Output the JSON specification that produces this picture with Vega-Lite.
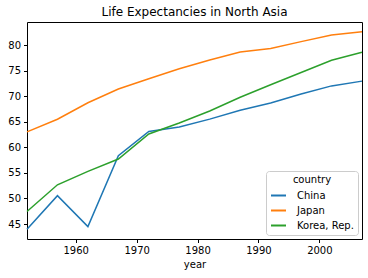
{
  "$schema": "https://vega.github.io/schema/vega-lite/v6.json",
  "autosize": "none",
  "width": 335,
  "height": 217,
  "padding": {"left": 27, "top": 22, "right": 6, "bottom": 39},
  "background": "white",
  "title": {"text": "Life Expectancies in North Asia", "font": "DejaVu Sans", "fontSize": 12, "fontWeight": "normal", "color": "black", "offset": 3},
  "config": {
    "view": {"stroke": "black", "strokeWidth": 1},
    "axis": {"labelFont": "DejaVu Sans", "labelFontSize": 10, "labelColor": "black", "titleFont": "DejaVu Sans", "titleFontSize": 10, "titleFontWeight": "normal", "titleColor": "black", "grid": false, "domain": false, "tickColor": "black", "tickSize": 3.5, "labelPadding": 3},
    "legend": {"labelFont": "DejaVu Sans", "labelFontSize": 10, "titleFont": "DejaVu Sans", "titleFontSize": 10, "titleFontWeight": "normal"}
  },
  "data": {"values": [
    {"country": "China", "year": 1952, "lifeExp": 44.0},
    {"country": "China", "year": 1957, "lifeExp": 50.549},
    {"country": "China", "year": 1962, "lifeExp": 44.501},
    {"country": "China", "year": 1967, "lifeExp": 58.381},
    {"country": "China", "year": 1972, "lifeExp": 63.119},
    {"country": "China", "year": 1977, "lifeExp": 63.967},
    {"country": "China", "year": 1982, "lifeExp": 65.525},
    {"country": "China", "year": 1987, "lifeExp": 67.274},
    {"country": "China", "year": 1992, "lifeExp": 68.69},
    {"country": "China", "year": 1997, "lifeExp": 70.426},
    {"country": "China", "year": 2002, "lifeExp": 72.028},
    {"country": "China", "year": 2007, "lifeExp": 72.961},
    {"country": "Japan", "year": 1952, "lifeExp": 63.03},
    {"country": "Japan", "year": 1957, "lifeExp": 65.5},
    {"country": "Japan", "year": 1962, "lifeExp": 68.73},
    {"country": "Japan", "year": 1967, "lifeExp": 71.43},
    {"country": "Japan", "year": 1972, "lifeExp": 73.42},
    {"country": "Japan", "year": 1977, "lifeExp": 75.38},
    {"country": "Japan", "year": 1982, "lifeExp": 77.11},
    {"country": "Japan", "year": 1987, "lifeExp": 78.67},
    {"country": "Japan", "year": 1992, "lifeExp": 79.36},
    {"country": "Japan", "year": 1997, "lifeExp": 80.69},
    {"country": "Japan", "year": 2002, "lifeExp": 82.0},
    {"country": "Japan", "year": 2007, "lifeExp": 82.603},
    {"country": "Korea, Rep.", "year": 1952, "lifeExp": 47.453},
    {"country": "Korea, Rep.", "year": 1957, "lifeExp": 52.681},
    {"country": "Korea, Rep.", "year": 1962, "lifeExp": 55.292},
    {"country": "Korea, Rep.", "year": 1967, "lifeExp": 57.716},
    {"country": "Korea, Rep.", "year": 1972, "lifeExp": 62.612},
    {"country": "Korea, Rep.", "year": 1977, "lifeExp": 64.766},
    {"country": "Korea, Rep.", "year": 1982, "lifeExp": 67.123},
    {"country": "Korea, Rep.", "year": 1987, "lifeExp": 69.81},
    {"country": "Korea, Rep.", "year": 1992, "lifeExp": 72.244},
    {"country": "Korea, Rep.", "year": 1997, "lifeExp": 74.647},
    {"country": "Korea, Rep.", "year": 2002, "lifeExp": 77.045},
    {"country": "Korea, Rep.", "year": 2007, "lifeExp": 78.623}
  ]},
  "mark": {"type": "line", "strokeWidth": 1.5},
  "encoding": {
    "x": {"field": "year", "type": "quantitative", "title": "year",
      "scale": {"domain": [1952, 2007], "zero": false, "nice": false},
      "axis": {"values": [1960, 1970, 1980, 1990, 2000], "format": "d", "titlePadding": 4}},
    "y": {"field": "lifeExp", "type": "quantitative", "title": null,
      "scale": {"domain": [42.07, 84.53], "zero": false, "nice": false},
      "axis": {"values": [45, 50, 55, 60, 65, 70, 75, 80]}},
    "color": {"field": "country", "type": "nominal", "title": "country",
      "scale": {"domain": ["China", "Japan", "Korea, Rep."], "range": ["#1f77b4", "#ff7f0e", "#2ca02c"]},
      "legend": {"orient": "bottom-right", "offset": 4, "symbolType": "stroke", "symbolSize": 225, "symbolStrokeWidth": 2, "strokeColor": "#cccccc", "fillColor": "white", "padding": 4, "cornerRadius": 3, "titleAnchor": "middle", "titlePadding": 2, "rowPadding": 1, "labelOffset": 10, "labelColor": "black", "titleColor": "black"}}
  }
}
